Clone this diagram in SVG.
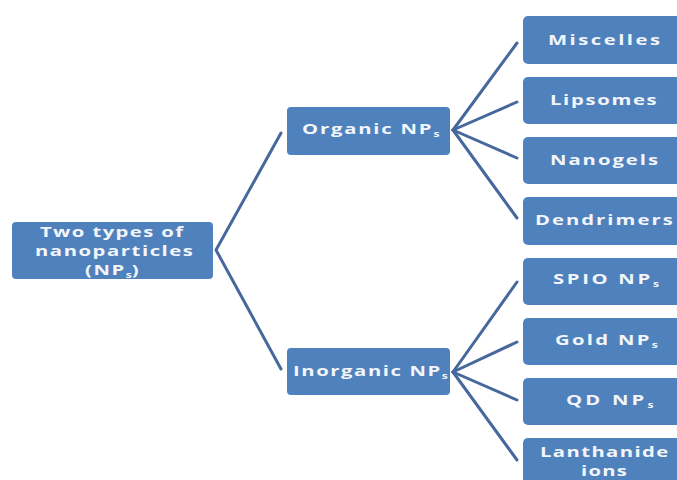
<svg xmlns="http://www.w3.org/2000/svg" width="677" height="480" viewBox="0 0 677 480">
<style>
.box{fill:#4F81BD;}
.t{font-family:"Open Sans","Noto Sans","Liberation Sans",sans-serif;font-weight:bold;font-size:15px;fill:#F2F5FA;}
.sub{font-size:9px;}
.c{stroke:#46689C;stroke-width:3;fill:none;stroke-linecap:round;stroke-linejoin:round;}
</style>
<rect width="677" height="480" fill="#FFFFFF"/>
<g id="connectors">
<polyline class="c" points="281,133 216,250 281,369"/>
<line class="c" x1="453" y1="130" x2="517" y2="43"/>
<line class="c" x1="453" y1="130" x2="517" y2="102"/>
<line class="c" x1="453" y1="130" x2="517" y2="158"/>
<line class="c" x1="453" y1="130" x2="517" y2="218"/>
<line class="c" x1="453" y1="372" x2="517" y2="282"/>
<line class="c" x1="453" y1="372" x2="517" y2="342"/>
<line class="c" x1="453" y1="372" x2="517" y2="400"/>
<line class="c" x1="453" y1="372" x2="517" y2="460"/>
</g>
<g id="root">
<rect class="box" x="12" y="222" width="201" height="57" rx="4"/>
<text class="t" transform="translate(40,237) scale(1.35,1)" textLength="106" lengthAdjust="spacing">Two types of</text>
<text class="t" transform="translate(35,256) scale(1.35,1)" textLength="117" lengthAdjust="spacing">nanoparticles</text>
<text class="t" transform="translate(85,275) scale(1.35,1)"><tspan textLength="29" lengthAdjust="spacing">(NP</tspan><tspan class="sub" dy="3">s</tspan><tspan dy="-3">)</tspan></text>
</g>
<g id="organic">
<rect class="box" x="287" y="107" width="163" height="48" rx="4"/>
<text class="t" transform="translate(302,134) scale(1.35,1)"><tspan textLength="96" lengthAdjust="spacing">Organic NP</tspan><tspan class="sub" dy="3">s</tspan></text>
</g>
<g id="inorganic">
<rect class="box" x="287" y="348" width="163" height="47" rx="4"/>
<text class="t" transform="translate(293,376) scale(1.35,1)"><tspan textLength="109" lengthAdjust="spacing">Inorganic NP</tspan><tspan class="sub" dy="3">s</tspan></text>
</g>
<g id="miscelles">
<rect class="box" x="523" y="16" width="162" height="48" rx="5"/>
<text class="t" transform="translate(548,45) scale(1.35,1)" textLength="83" lengthAdjust="spacing">Miscelles</text>
</g>
<g id="lipsomes">
<rect class="box" x="523" y="77" width="162" height="47" rx="5"/>
<text class="t" transform="translate(550,105) scale(1.35,1)" textLength="79" lengthAdjust="spacing">Lipsomes</text>
</g>
<g id="nanogels">
<rect class="box" x="523" y="137" width="162" height="47" rx="5"/>
<text class="t" transform="translate(550,165) scale(1.35,1)" textLength="80" lengthAdjust="spacing">Nanogels</text>
</g>
<g id="dendrimers">
<rect class="box" x="523" y="197" width="162" height="48" rx="5"/>
<text class="t" transform="translate(535,225) scale(1.35,1)" textLength="102" lengthAdjust="spacing">Dendrimers</text>
</g>
<g id="spio">
<rect class="box" x="523" y="258" width="162" height="47" rx="5"/>
<text class="t" transform="translate(553,284) scale(1.35,1)"><tspan textLength="72" lengthAdjust="spacing">SPIO NP</tspan><tspan class="sub" dy="3">s</tspan></text>
</g>
<g id="gold">
<rect class="box" x="523" y="318" width="162" height="47" rx="5"/>
<text class="t" transform="translate(555,345) scale(1.35,1)"><tspan textLength="70" lengthAdjust="spacing">Gold NP</tspan><tspan class="sub" dy="3">s</tspan></text>
</g>
<g id="qd">
<rect class="box" x="523" y="378" width="162" height="47" rx="5"/>
<text class="t" transform="translate(566,405) scale(1.35,1)"><tspan textLength="58" lengthAdjust="spacing">QD NP</tspan><tspan class="sub" dy="3">s</tspan></text>
</g>
<g id="lanthanide">
<rect class="box" x="523" y="438" width="162" height="60" rx="5"/>
<text class="t" transform="translate(540,457) scale(1.35,1)" textLength="95" lengthAdjust="spacing">Lanthanide</text>
<text class="t" transform="translate(581,476) scale(1.35,1)" textLength="34" lengthAdjust="spacing">ions</text>
</g>
</svg>
